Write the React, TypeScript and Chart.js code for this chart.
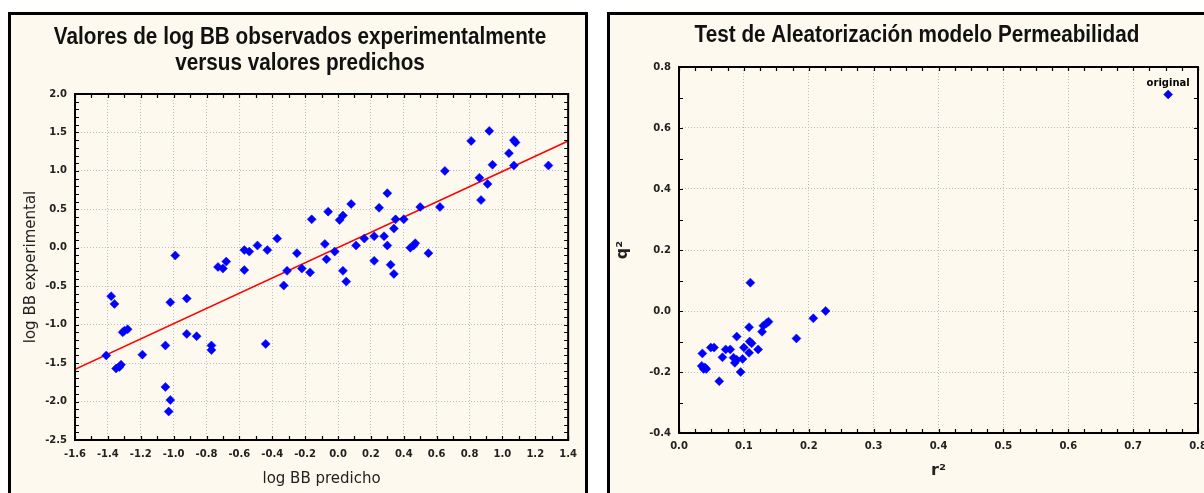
import React, { useEffect, useRef } from "react";
import { Chart, registerables } from "chart.js";

Chart.register(...registerables);

// ---------- Left chart data ----------
const predictedLogBB = [
  -1.41, -1.38, -1.36, -1.31, -1.30, -1.28, -1.35, -1.33, -1.32, -1.19,
  -1.05, -1.02, -0.92, -0.92, -0.86, -0.77, -0.77, -1.05, -1.02, -1.03,
  -0.44, -0.33, -0.31, -0.57, -0.73, -0.70, -0.68, -0.99, -0.57, -0.54,
  -0.49, -0.43, -0.37, -0.25, -0.22, -0.17, -0.16, -0.08, -0.07, -0.06,
  -0.02, 0.01, 0.03, 0.03, 0.05, 0.08, 0.11, 0.16, 0.22, 0.22,
  0.25, 0.28, 0.30, 0.30, 0.32, 0.34, 0.34, 0.35, 0.40, 0.44,
  0.46, 0.47, 0.50, 0.55, 0.62, 0.65, 0.81, 0.86, 0.87, 0.91,
  0.92, 0.94, 1.04, 1.07, 1.08, 1.07, 1.28,
];
const experimentalLogBB = [
  -1.40, -0.63, -0.73, -1.10, -1.08, -1.06, -1.57, -1.55, -1.52, -1.39,
  -1.27, -0.71, -0.66, -1.12, -1.15, -1.27, -1.33, -1.81, -1.98, -2.13,
  -1.25, -0.49, -0.30, -0.29, -0.25, -0.27, -0.18, -0.10, -0.03, -0.05,
  0.03, -0.03, 0.12, -0.07, -0.27, -0.32, 0.37, 0.05, -0.15, 0.47,
  -0.05, 0.36, 0.42, -0.30, -0.44, 0.57, 0.03, 0.12, 0.15, -0.17,
  0.52, 0.15, 0.71, 0.03, -0.22, -0.34, 0.25, 0.37, 0.37, 0.00,
  0.03, 0.06, 0.53, -0.07, 0.53, 1.00, 1.39, 0.91, 0.62, 0.83,
  1.52, 1.08, 1.23, 1.40, 1.37, 1.07, 1.07,
];
const fitLineX = [-1.6, 1.4];
const fitLineY = [-1.58, 1.39];
const leftTitle = ["Valores de log BB observados experimentalmente", "versus valores predichos"];
const leftXLabel = "log BB predicho";
const leftYLabel = "log BB experimental";
const leftXRange = [-1.6, 1.4];
const leftYRange = [-2.5, 2.0];
const leftXStep = 0.2;
const leftYStep = 0.5;

// ---------- Right chart data ----------
const randomR2 = [
  0.036, 0.035, 0.038, 0.040, 0.042, 0.049, 0.054, 0.062, 0.067, 0.072,
  0.079, 0.084, 0.086, 0.089, 0.089, 0.095, 0.098, 0.100, 0.108, 0.108,
  0.109, 0.112, 0.122, 0.128, 0.130, 0.135, 0.138, 0.181, 0.207, 0.226,
  0.110,
];
const randomQ2 = [
  -0.139, -0.180, -0.190, -0.185, -0.190, -0.120, -0.120, -0.230, -0.152, -0.126,
  -0.126, -0.153, -0.170, -0.160, -0.084, -0.200, -0.157, -0.120, -0.137, -0.053,
  -0.100, -0.106, -0.126, -0.068, -0.048, -0.040, -0.035, -0.090, -0.024, 0.000,
  0.093,
];
const originalR2 = [0.754];
const originalQ2 = [0.71];
const originalLabel = "original";
const rightTitle = ["Test de Aleatorización modelo Permeabilidad"];
const rightXLabel = "r²";
const rightYLabel = "q²";
const rightXRange = [0, 0.8];
const rightYRange = [-0.4, 0.8];
const rightXStep = 0.1;
const rightYStep = 0.2;

// ---------- styles ----------
const TITLE_FONT = "'Liberation Sans', Arial, sans-serif";
const TICK_FONT = "'DejaVu Sans', sans-serif";
const BLUE = "#0000ff";
const GRID = "#bdbdbd";

const fmt1 = (v: number) => (Math.abs(v) < 1e-9 ? "0.0" : Number(v).toFixed(1));

// condensed bold title drawn above the plot
const condensedTitlePlugin = {
  id: "condensedTitle",
  afterDraw(chart: any, _args: any, opts: any) {
    if (!opts || !opts.lines) return;
    const { ctx, width } = chart;
    ctx.save();
    ctx.font = `bold ${opts.size}px ${TITLE_FONT}`;
    ctx.fillStyle = "#111";
    ctx.textAlign = "center";
    ctx.textBaseline = "middle";
    (opts.lines as string[]).forEach((line, i) => {
      ctx.save();
      ctx.translate(width / 2 + (opts.dx || 0), opts.y0 + i * opts.lineGap);
      ctx.scale(opts.scaleX, 1);
      ctx.fillText(line, 0, 0);
      ctx.restore();
    });
    ctx.restore();
  },
};

const frameTicksPlugin = {
  id: "frameTicks",
  afterDraw(chart: any, _args: any, opts: any) {
    const { ctx, chartArea: a, scales } = chart;
    const xs = scales.x;
    const ys = scales.y;
    const len = opts.len ?? 4;
    ctx.save();
    ctx.strokeStyle = "#000";
    ctx.lineWidth = 1.2;
    ctx.beginPath();
    const nx = Math.round((xs.max - xs.min) / opts.xStep);
    for (let i = 0; i <= nx; i++) {
      const px = Math.round(xs.getPixelForValue(xs.min + i * opts.xStep)) + 0.5;
      ctx.moveTo(px, a.top);
      ctx.lineTo(px, a.top + len);
      ctx.moveTo(px, a.bottom);
      ctx.lineTo(px, a.bottom - len);
    }
    const ny = Math.round((ys.max - ys.min) / opts.yStep);
    for (let i = 0; i <= ny; i++) {
      const py = Math.round(ys.getPixelForValue(ys.min + i * opts.yStep)) + 0.5;
      ctx.moveTo(a.left, py);
      ctx.lineTo(a.left + len, py);
      ctx.moveTo(a.right, py);
      ctx.lineTo(a.right - len, py);
    }
    ctx.stroke();
    ctx.lineWidth = 2;
    ctx.strokeRect(a.left, a.top, a.right - a.left, a.bottom - a.top);
    ctx.restore();
  },
};

const pointLabelPlugin = {
  id: "pointLabel",
  afterDatasetsDraw(chart: any, _args: any, opts: any) {
    if (!opts || opts.datasetIndex === undefined) return;
    const meta = chart.getDatasetMeta(opts.datasetIndex);
    const el = meta.data[0];
    if (!el) return;
    const { ctx } = chart;
    ctx.save();
    ctx.font = `bold 10px ${TICK_FONT}`;
    ctx.fillStyle = "#000";
    ctx.textAlign = "center";
    ctx.textBaseline = "middle";
    ctx.fillText(opts.text, el.x, el.y - 11);
    ctx.restore();
  },
};

function axisCommon(min: number, max: number, step: number, size: number, isX: boolean, label: string, titleFont: any, titlePadding: any, tickPad: number) {
  return {
    type: "linear",
    min,
    max,
    afterFit(scale: any) {
      if (isX) scale.height = size;
      else scale.width = size;
    },
    ticks: {
      stepSize: step,
      autoSkip: false,
      maxRotation: 0,
      padding: tickPad,
      color: "#222",
      font: { family: TICK_FONT, size: 10, weight: "bold" },
      callback: (v: any) => fmt1(Number(v)),
    },
    grid: {
      color: GRID,
      lineWidth: 1,
      drawTicks: false,
      borderDash: [1, 2],
    },
    border: { display: false, dash: [1, 2] },
    title: {
      display: true,
      text: label,
      color: "#222",
      font: titleFont,
      padding: titlePadding,
    },
  };
}

export default function App() {
  const leftRef = useRef<HTMLCanvasElement>(null);
  const rightRef = useRef<HTMLCanvasElement>(null);

  useEffect(() => {
    const left = new Chart(leftRef.current as HTMLCanvasElement, {
      type: "scatter",
      data: {
        datasets: [
          {
            type: "line",
            data: fitLineX.map((x, i) => ({ x, y: fitLineY[i] })),
            borderColor: "#ff0000",
            borderWidth: 1.6,
            pointRadius: 0,
            fill: false,
            order: 2,
          } as any,
          {
            data: predictedLogBB.map((x, i) => ({ x, y: experimentalLogBB[i] })),
            pointStyle: "rectRot",
            pointRadius: 4.5,
            backgroundColor: BLUE,
            borderColor: BLUE,
            borderWidth: 0.5,
            order: 1,
          },
        ],
      },
      options: {
        responsive: false,
        animation: false,
        layout: { padding: { left: 0, right: 10, top: 79, bottom: 0 } },
        plugins: {
          legend: { display: false },
          tooltip: { enabled: false },
          title: { display: false },
          condensedTitle: { lines: leftTitle, size: 23, scaleX: 0.9, y0: 23, lineGap: 26, dx: 2 },
          frameTicks: { xStep: 0.1, yStep: 0.1, len: 4 },
        } as any,
        scales: {
          x: axisCommon(leftXRange[0], leftXRange[1], leftXStep, 53, true, leftXLabel,
            { family: TICK_FONT, size: 15 }, { top: 0, bottom: 5 }, 8) as any,
          y: axisCommon(leftYRange[0], leftYRange[1], leftYStep, 64, false, leftYLabel,
            { family: TICK_FONT, size: 15 }, { top: 11, bottom: 0 }, 8) as any,
        },
      },
      plugins: [frameTicksPlugin, condensedTitlePlugin],
    });

    const right = new Chart(rightRef.current as HTMLCanvasElement, {
      type: "scatter",
      data: {
        datasets: [
          {
            data: randomR2.map((x, i) => ({ x, y: randomQ2[i] })),
            pointStyle: "rectRot",
            pointRadius: 4.5,
            backgroundColor: BLUE,
            borderColor: BLUE,
            borderWidth: 0.5,
          },
          {
            data: originalR2.map((x, i) => ({ x, y: originalQ2[i] })),
            pointStyle: "rectRot",
            pointRadius: 4.5,
            backgroundColor: BLUE,
            borderColor: BLUE,
            borderWidth: 0.5,
          },
        ],
      },
      options: {
        responsive: false,
        animation: false,
        layout: { padding: { left: 0, right: 26, top: 52, bottom: 0 } },
        plugins: {
          legend: { display: false },
          tooltip: { enabled: false },
          title: { display: false },
          condensedTitle: { lines: rightTitle, size: 23, scaleX: 0.9, y0: 21, lineGap: 26, dx: 0 },
          frameTicks: { xStep: 0.025, yStep: 0.1, len: 4 },
          pointLabel: { datasetIndex: 1, text: originalLabel },
        } as any,
        scales: {
          x: axisCommon(rightXRange[0], rightXRange[1], rightXStep, 62, true, rightXLabel,
            { family: TICK_FONT, size: 16, weight: "bold" }, { top: 0, bottom: 15 }, 7) as any,
          y: axisCommon(rightYRange[0], rightYRange[1], rightYStep, 69, false, rightYLabel,
            { family: TICK_FONT, size: 16, weight: "bold" }, { top: 3, bottom: 0 }, 8) as any,
        },
      },
      plugins: [frameTicksPlugin, pointLabelPlugin, condensedTitlePlugin],
    });

    return () => {
      left.destroy();
      right.destroy();
    };
  }, []);

  const panel = (left: number, width: number): React.CSSProperties => ({
    position: "absolute",
    left,
    top: 12,
    width,
    height: 500,
    boxSizing: "border-box",
    border: "3px solid #000",
    borderBottom: "none",
    background: "#fdf9ee",
    overflow: "hidden",
  });

  return (
    <div
      style={{
        position: "fixed",
        left: 0,
        top: 0,
        width: 1204,
        height: 493,
        overflow: "hidden",
        background: "#ffffff",
      }}
    >
      <div style={panel(8, 580)}>
        <canvas ref={leftRef} width={574} height={478} style={{ position: "absolute", left: 0, top: 0 }} />
      </div>
      <div style={panel(607, 620)}>
        <canvas ref={rightRef} width={614} height={480} style={{ position: "absolute", left: 0, top: 0 }} />
      </div>
    </div>
  );
}
